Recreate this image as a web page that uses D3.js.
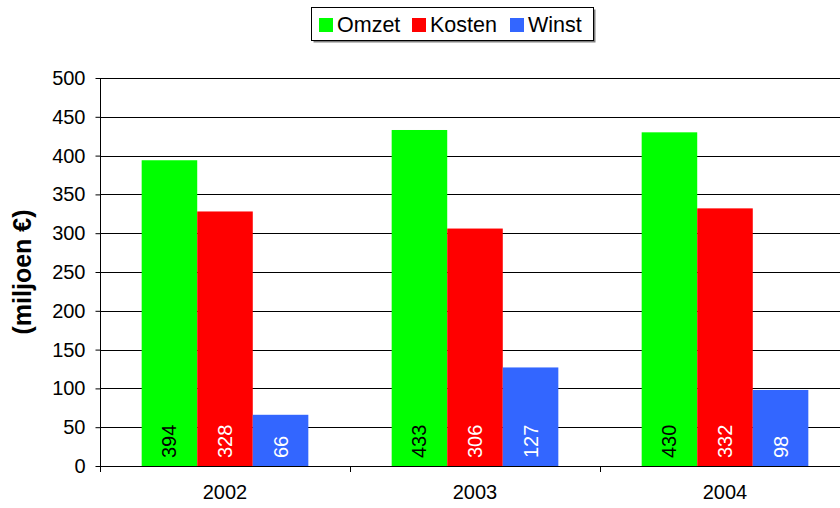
<!DOCTYPE html>
<html><head><meta charset="utf-8">
<script src="https://cdn.jsdelivr.net/npm/d3@7"></script>
<style>body{margin:0;background:#fff}svg text{font-family:Arial,"Liberation Sans",Helvetica,sans-serif !important}</style>
</head><body><svg id="c" width="840" height="508" font-family="Arial, 'Liberation Sans', sans-serif"></svg>
<script>
const categories = ["2002","2003","2004"];
const seriesNames = ["Omzet","Kosten","Winst"];
const omzet = [394,433,430];
const kosten = [328,306,332];
const winst = [66,127,98];
const yTicks = [0,50,100,150,200,250,300,350,400,450,500];
const colors = ["#00ff00","#ff0000","#3366ff"];
const labelColors = ["#000","#fff","#fff"];
const series = [omzet,kosten,winst];
const FF = "Arial, 'Liberation Sans', sans-serif";

const svg = d3.select("#c");
const x = d3.scaleBand().domain(categories).range([100,850]).paddingInner(0).paddingOuter(0);
// group occupies 3 of 4.5 bar widths
const bw = x.bandwidth()/4.5;
const xi = d3.scaleBand().domain(seriesNames).range([bw*0.75, bw*3.75]);
const y = d3.scaleLinear().domain([0,500]).range([466,78]);

// gridlines
svg.append("g").selectAll("line").data(yTicks.slice(1)).join("line")
  .attr("x1",100).attr("x2",840)
  .attr("y1",d=>Math.round(y(d))+0.5).attr("y2",d=>Math.round(y(d))+0.5)
  .attr("stroke","#000").attr("stroke-width",1);

// bars
const groups = svg.append("g").selectAll("g").data(categories).join("g")
  .attr("transform",d=>`translate(${x(d)},0)`);
seriesNames.forEach((s,si)=>{
  groups.append("rect")
    .attr("x",(d,i)=>xi(s)).attr("width",xi.bandwidth())
    .attr("y",(d,i)=>y(series[si][i])).attr("height",(d,i)=>y(0)-y(series[si][i]))
    .attr("fill",colors[si]);
  groups.append("text")
    .attr("transform",(d,i)=>`translate(${xi(s)+xi.bandwidth()/2+7},${y(0)-8}) rotate(-90)`)
    .attr("font-size",20).attr("font-family",FF).attr("fill",labelColors[si])
    .text((d,i)=>series[si][i]);
});

// y axis
const yAxis = d3.axisLeft(y).tickValues(yTicks).tickSize(5).tickPadding(10);
const ga = svg.append("g").attr("transform","translate(100.5,0)").call(yAxis);
ga.attr("font-family",FF);
ga.select(".domain").attr("stroke","#000").attr("d","M0,78V466.5");
ga.selectAll(".tick line").attr("stroke","#000");
ga.selectAll(".tick text").attr("font-size",20).attr("font-family",FF).attr("fill","#000");

// x axis
const xAxis = d3.axisBottom(x).tickSize(0).tickPadding(18);
const gx = svg.append("g").attr("transform","translate(0,466.5)").call(xAxis);
gx.attr("font-family",FF);
gx.select(".domain").attr("stroke","#000").attr("d","M100,0H840");
gx.selectAll(".tick text").attr("font-size",20).attr("font-family",FF).attr("fill","#000");
svg.append("g").selectAll("line").data(categories).join("line")
  .attr("x1",d=>Math.round(x(d))+0.5).attr("x2",d=>Math.round(x(d))+0.5)
  .attr("y1",466).attr("y2",472).attr("stroke","#000");

// axis title
svg.append("text").attr("transform","translate(31,272) rotate(-90)")
  .attr("text-anchor","middle").attr("font-size",25).attr("font-weight","bold").attr("font-family",FF)
  .text("(miljoen €)");

// legend
const lg = svg.append("g");
lg.append("rect").attr("x",313.5).attr("y",9.5).attr("width",282).attr("height",33).attr("fill","#808080");
lg.append("rect").attr("x",311.5).attr("y",7.5).attr("width",282).attr("height",33).attr("fill","#fff").attr("stroke","#000");
const legX = [319,412,510];
seriesNames.forEach((s,i)=>{
  lg.append("rect").attr("x",legX[i]).attr("y",18).attr("width",14).attr("height",14).attr("fill",colors[i]);
  lg.append("text").attr("x",legX[i]+18).attr("y",32).attr("font-size",21.5).attr("font-family",FF).attr("fill","#000").text(s);
});
</script></body></html>
